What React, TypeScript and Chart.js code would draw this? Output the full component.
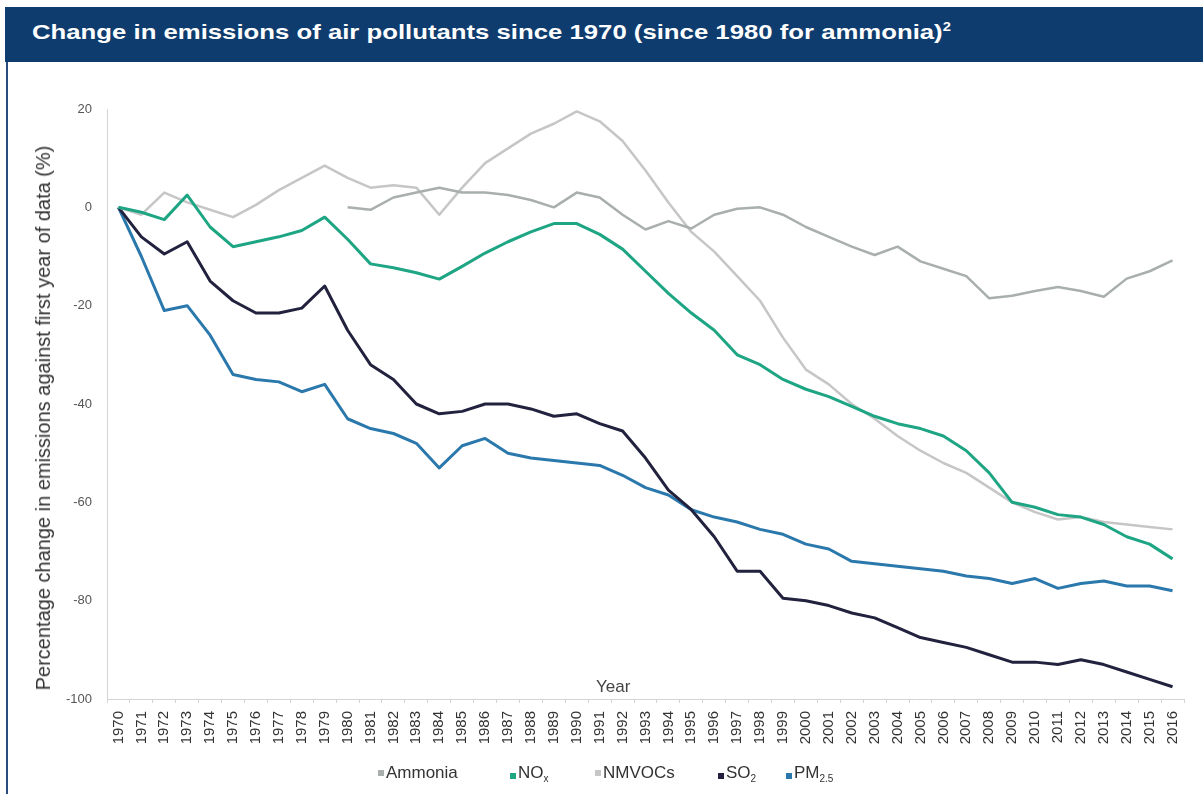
import React, { useEffect, useRef } from "react";
import { Chart, registerables } from "chart.js";

Chart.register(...registerables);

const years = [
  "1970", "1971", "1972", "1973", "1974", "1975", "1976", "1977", "1978", "1979",
  "1980", "1981", "1982", "1983", "1984", "1985", "1986", "1987", "1988", "1989",
  "1990", "1991", "1992", "1993", "1994", "1995", "1996", "1997", "1998", "1999",
  "2000", "2001", "2002", "2003", "2004", "2005", "2006", "2007", "2008", "2009",
  "2010", "2011", "2012", "2013", "2014", "2015", "2016",
];

const ammonia = [
  null, null, null, null, null, null, null, null, null, null,
  0, -0.5, 2, 3, 4, 3, 3, 2.5, 1.5, 0,
  3, 2, -1.5, -4.5, -2.8, -4.3, -1.5, -0.3, 0, -1.5,
  -4, -6, -8, -9.7, -8, -11, -12.5, -14, -18.5, -18,
  -17, -16.2, -17, -18.2, -14.5, -13, -10.8,
];

const nox = [
  0, -1, -2.5, 2.5, -4, -8, -7, -6, -4.7, -2,
  -6.5, -11.5, -12.3, -13.3, -14.6, -12, -9.3, -7, -5, -3.3,
  -3.3, -5.5, -8.5, -13, -17.5, -21.5, -25, -30, -32, -35,
  -37, -38.5, -40.5, -42.5, -44, -45, -46.5, -49.5, -54, -60,
  -61, -62.5, -63, -64.5, -67, -68.5, -71.5,
];

const nmvocs = [
  0, -1.5, 3, 1, -0.5, -2, 0.5, 3.5, 6, 8.5,
  6, 4, 4.5, 4, -1.5, 4, 9, 12, 15, 17,
  19.5, 17.5, 13.5, 7.5, 1, -5, -9, -14, -19, -26.5,
  -33, -36, -40, -43, -46.5, -49.5, -52, -54, -57, -60,
  -62, -63.5, -63, -64, -64.5, -65, -65.5,
];

const so2 = [
  0, -6, -9.5, -7, -15, -19, -21.5, -21.5, -20.5, -16,
  -25, -32, -35, -40, -42, -41.5, -40, -40, -41, -42.5,
  -42, -44, -45.5, -51, -57.5, -61.5, -67, -74, -74, -79.5,
  -80, -81, -82.5, -83.5, -85.5, -87.5, -88.5, -89.5, -91, -92.5,
  -92.5, -93, -92, -93, -94.5, -96, -97.5,
];

const pm25 = [
  0, -10, -21, -20, -26, -34, -35, -35.5, -37.5, -36,
  -43, -45, -46, -48, -53, -48.5, -47, -50, -51, -51.5,
  -52, -52.5, -54.5, -57, -58.5, -61.5, -63, -64, -65.5, -66.5,
  -68.5, -69.5, -72, -72.5, -73, -73.5, -74, -75, -75.5, -76.5,
  -75.5, -77.5, -76.5, -76, -77, -77, -78,
];

const yTickValues = [20, 0, -20, -40, -60, -80, -100];

const COLORS = {
  ammonia: "#a8afac",
  nox: "#1ea583",
  nmvocs: "#c6c6c6",
  so2: "#22223f",
  pm25: "#2a78ac",
};

const FONT = '"Liberation Sans", Arial, Helvetica, sans-serif';

const yearLabelPlugin = {
  id: "yearLabel",
  afterDraw(chart: any) {
    const { ctx, chartArea } = chart;
    ctx.save();
    ctx.font = `17px ${FONT}`;
    ctx.fillStyle = "#444";
    ctx.textAlign = "center";
    ctx.textBaseline = "middle";
    ctx.fillText("Year", chartArea.left + (chartArea.right - chartArea.left) * 0.47, chartArea.bottom - 12);
    ctx.restore();
  },
};

export default function App() {
  const canvasRef = useRef<HTMLCanvasElement | null>(null);

  useEffect(() => {
    document.body.style.margin = "0";
    Chart.defaults.font.family = FONT;
    const canvas = canvasRef.current;
    if (!canvas) return;
    const chart = new Chart(canvas, {
      type: "line",
      data: {
        labels: years,
        datasets: [
          { label: "Ammonia", data: ammonia, borderColor: COLORS.ammonia, borderWidth: 2.5 },
          { label: "NOx", data: nox, borderColor: COLORS.nox, borderWidth: 3 },
          { label: "NMVOCs", data: nmvocs, borderColor: COLORS.nmvocs, borderWidth: 2.5 },
          { label: "SO2", data: so2, borderColor: COLORS.so2, borderWidth: 3 },
          { label: "PM2.5", data: pm25, borderColor: COLORS.pm25, borderWidth: 3 },
        ].map((d) => ({ ...d, pointRadius: 0, tension: 0, fill: false, spanGaps: false, borderJoinStyle: "round" as const })),
      },
      options: {
        animation: false,
        responsive: false,
        maintainAspectRatio: false,
        layout: { padding: { top: 109, right: 19, bottom: 0, left: 0 } },
        plugins: { legend: { display: false }, tooltip: { enabled: false } },
        scales: {
          x: {
            type: "category",
            offset: true,
            afterFit: (s: any) => { s.height = 95; },
            grid: { display: true, drawOnChartArea: false, drawTicks: true, tickLength: 4, color: "#d4d4d4", offset: true },
            border: { display: true, color: "#d4d4d4", width: 1 },
            ticks: { autoSkip: false, maxRotation: 90, minRotation: 90, padding: 8, color: "#333", font: { size: 15 } },
          },
          y: {
            min: -100,
            max: 20,
            afterFit: (s: any) => { s.width = 107; },
            afterBuildTicks: (s: any) => { s.ticks = yTickValues.map((v) => ({ value: v })); },
            grid: { display: true, drawOnChartArea: false, drawTicks: false, color: "#d4d4d4" },
            border: { display: true, color: "#d4d4d4", width: 1 },
            ticks: { padding: 15, color: "#555", font: { size: 13 } },
          },
        },
      },
      plugins: [yearLabelPlugin],
    } as any);
    return () => chart.destroy();
  }, []);

  const legendItems = [
    { left: 378, color: COLORS.ammonia, text: <>Ammonia</> },
    { left: 510, color: COLORS.nox, text: <>NO<sub style={{ fontSize: 10 }}>x</sub></> },
    { left: 595, color: COLORS.nmvocs, text: <>NMVOCs</> },
    { left: 718, color: COLORS.so2, text: <>SO<sub style={{ fontSize: 10 }}>2</sub></> },
    { left: 786, color: COLORS.pm25, text: <>PM<sub style={{ fontSize: 10 }}>2.5</sub></> },
  ];

  return (
    <div style={{ position: "relative", width: 1203, height: 794, background: "#fff", overflow: "hidden", fontFamily: FONT }}>
      <canvas ref={canvasRef} width={1203} height={794} style={{ position: "absolute", left: 0, top: 0, width: 1203, height: 794 }} />
      <div
        style={{
          position: "absolute", left: 5, top: 7, width: 1198, height: 55,
          background: "#0f3c6e", boxSizing: "border-box", paddingLeft: 27,
          display: "flex", alignItems: "center",
        }}
      >
        <div
          style={{
            color: "#fff", fontWeight: "bold", fontSize: 21, whiteSpace: "nowrap",
            transform: "scaleX(1.225)", transformOrigin: "left center", marginTop: -6,
          }}
        >
          Change in emissions of air pollutants since 1970 (since 1980 for ammonia)
          <sup style={{ fontSize: 12, lineHeight: 0 }}>2</sup>
        </div>
      </div>
      <div style={{ position: "absolute", left: 6, top: 62, width: 2, height: 732, background: "#2b4c7e" }} />
      <div
        style={{
          position: "absolute", left: 43, top: 418, width: 0, height: 0,
        }}
      >
        <div
          style={{
            position: "absolute", left: 0, top: 0, whiteSpace: "nowrap",
            transform: "translate(-50%, -50%) rotate(-90deg)",
            fontSize: 20, color: "#333", lineHeight: "22px",
          }}
        >
          Percentage change in emissions against first year of data (%)
        </div>
      </div>
      {legendItems.map((it, i) => (
        <div key={i} style={{ position: "absolute", left: it.left, top: 762, display: "flex", alignItems: "center", fontSize: 17, color: "#333", lineHeight: "22px" }}>
          <span style={{ display: "inline-block", width: 6, height: 6, background: it.color, marginRight: 2 }} />
          <span>{it.text}</span>
        </div>
      ))}
    </div>
  );
}
